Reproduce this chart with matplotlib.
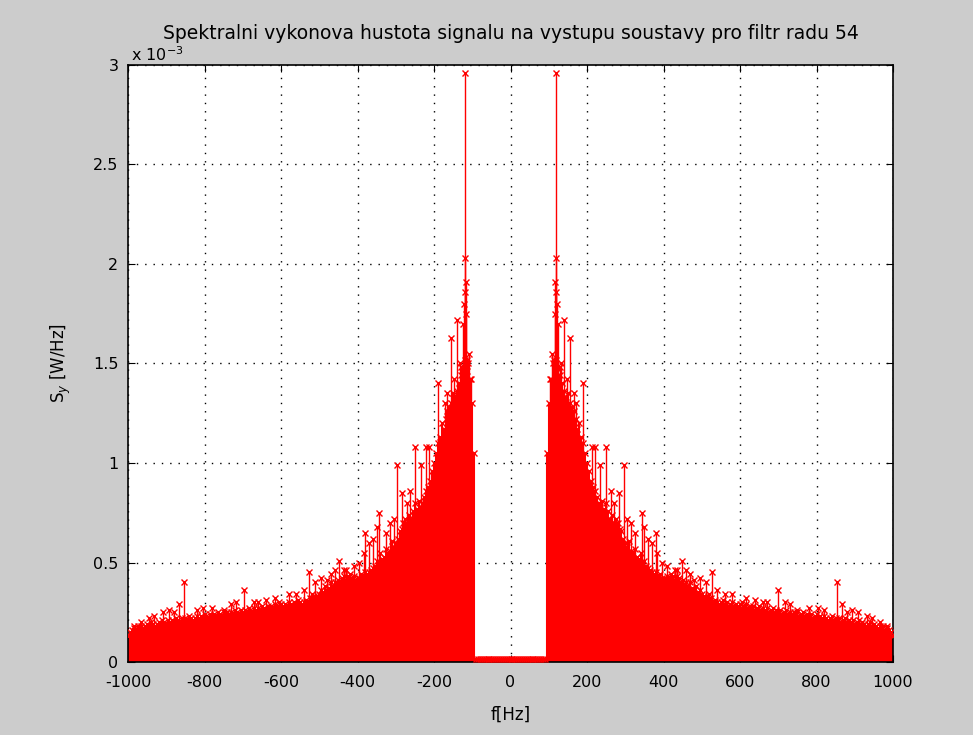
import numpy as np
import matplotlib
matplotlib.use('Agg')
import matplotlib.pyplot as plt

plt.rcParams['font.family'] = ['DejaVu Sans']
plt.rcParams['axes.unicode_minus'] = False

# one-sided spectrum (x 1e-3 W/Hz), mirrored for negative frequencies
gap_freqs = np.arange(0, 95, 5)
gap_vals = [0.015, 0.014, 0.016, 0.015, 0.014, 0.016, 0.015, 0.014, 0.016, 0.015,
            0.014, 0.016, 0.015, 0.014, 0.016, 0.015, 0.014, 0.016, 0.015]

body_freqs = np.arange(95, 1005, 5)
body_vals = [
    1.05, 1.30, 1.42, 1.50, 1.46, 1.52, 1.47, 1.44, 1.40, 1.36,
    1.33, 1.35, 1.30, 1.28, 1.26, 1.22, 1.17, 1.20, 1.13, 1.10,
    1.05, 1.00, 0.96, 0.91, 0.88, 0.86, 0.83, 0.80, 0.78, 0.81,
    0.77, 0.80, 0.76, 0.72, 0.74, 0.70, 0.72, 0.70, 0.67, 0.66,
    0.62, 0.60, 0.58, 0.61, 0.56, 0.55, 0.57, 0.53, 0.52, 0.55,
    0.50, 0.51, 0.48, 0.47, 0.46, 0.45, 0.44, 0.45, 0.43, 0.44,
    0.42, 0.42, 0.41, 0.43, 0.42, 0.44, 0.43, 0.41, 0.43, 0.42,
    0.40, 0.41, 0.39, 0.40, 0.38, 0.40, 0.37, 0.36, 0.38, 0.35,
    0.36, 0.34, 0.33, 0.32, 0.33, 0.34, 0.32, 0.30, 0.31, 0.30,
    0.29, 0.30, 0.31, 0.29, 0.30, 0.28, 0.29, 0.30, 0.28, 0.29,
    0.28, 0.29, 0.27, 0.28, 0.29, 0.27, 0.28, 0.27, 0.28, 0.26,
    0.27, 0.28, 0.26, 0.27, 0.26, 0.27, 0.25, 0.26, 0.27, 0.25,
    0.26, 0.25, 0.26, 0.24, 0.25, 0.26, 0.24, 0.25, 0.24, 0.25,
    0.24, 0.25, 0.23, 0.24, 0.25, 0.23, 0.24, 0.23, 0.24, 0.22,
    0.23, 0.24, 0.22, 0.23, 0.22, 0.23, 0.22, 0.21, 0.22, 0.23,
    0.21, 0.22, 0.21, 0.22, 0.20, 0.21, 0.22, 0.20, 0.21, 0.20,
    0.21, 0.19, 0.20, 0.21, 0.19, 0.20, 0.19, 0.18, 0.19, 0.20,
    0.18, 0.19, 0.18, 0.17, 0.18, 0.17, 0.18, 0.16, 0.17, 0.16,
    0.15, 0.13,
]

# prominent spectral lines (positive side)
peak_freqs = [119, 118, 117, 120, 122, 116, 123, 140, 156, 129, 113, 190,
              179, 213, 221, 250, 234, 297, 284, 343, 349, 325, 380, 383,
              430, 435, 448, 495, 526, 605, 616, 671, 698, 718, 749, 804,
              854, 867, 893, 909, 932, 966, 984,
              104, 108, 133, 147, 166, 172, 262, 270, 305, 315, 360, 370,
              395, 410, 460, 470, 480, 510, 540, 560, 580, 640, 660, 730,
              780, 820, 880, 945]
peak_vals = [2.96, 2.03, 1.91, 1.86, 1.80, 1.75, 1.70, 1.72, 1.63, 1.48, 1.52, 1.40,
             1.08, 1.08, 1.08, 1.08, 0.99, 0.99, 0.85, 0.75, 0.68, 0.65, 0.65, 0.55,
             0.46, 0.46, 0.51, 0.42, 0.45, 0.30, 0.32, 0.30, 0.36, 0.30, 0.26, 0.27,
             0.40, 0.29, 0.26, 0.25, 0.23, 0.20, 0.18,
             1.42, 1.55, 1.50, 1.42, 1.35, 1.30, 0.86, 0.80, 0.72, 0.70, 0.62, 0.60,
             0.50, 0.48, 0.46, 0.44, 0.41, 0.40, 0.36, 0.34, 0.34, 0.31, 0.30, 0.29,
             0.27, 0.26, 0.25, 0.22]

x_ticks = np.arange(-1000, 1001, 200)
y_ticks = [0, 0.5, 1, 1.5, 2, 2.5, 3]


def mirror(freqs, vals):
    freqs = np.asarray(freqs, dtype=float)
    vals = np.asarray(vals, dtype=float)
    keep = freqs > 0
    return (np.concatenate([-freqs[keep][::-1], freqs]),
            np.concatenate([vals[keep][::-1], vals]) * 1e-3)


fig = plt.figure(figsize=(9.73, 7.35), dpi=100, facecolor='#cccccc')
ax = fig.add_axes([0.1316, 0.0993, 0.7862, 0.8123])
ax.set_facecolor('white')

for fr, vl, lw in [(gap_freqs, gap_vals, 1.4), (body_freqs, body_vals, 1.5),
                   (peak_freqs, peak_vals, 1.0)]:
    f, v = mirror(fr, vl)
    ax.vlines(f, 0, v, color='red', linewidth=lw, zorder=2)
    ax.plot(f, v, 'x', color='red', markersize=5, markeredgewidth=1, zorder=3)

ax.set_xlim(-1000, 1000)
ax.set_ylim(0, 3e-3)
ax.set_xticks(x_ticks)
ax.set_yticks([t * 1e-3 for t in y_ticks])
ax.set_yticklabels([('%g' % t) for t in y_ticks])
ax.tick_params(direction='in', length=5, top=True, right=True, labelsize=11.5)
ax.tick_params(axis='x', pad=9)
ax.tick_params(axis='y', pad=7)
ax.grid(True, color='black', linestyle=(0, (1, 5)), linewidth=1)
for s in ax.spines.values():
    s.set_linewidth(1.2)

# title sits just above the exponent label
ax.set_title('Spektralni vykonova hustota signalu na vystupu soustavy pro filtr radu 54',
             fontsize=13.5, pad=19)
ax.text(0.004, 1.002, r'x 10$^{-3}$', transform=ax.transAxes, fontsize=11.5,
        ha='left', va='bottom')
ax.set_xlabel('f[Hz]', fontsize=12, labelpad=12)
ax.set_ylabel(r'S$_y$ [W/Hz]', fontsize=12, labelpad=14)

fig.savefig('out.png', dpi=100, facecolor=fig.get_facecolor())
